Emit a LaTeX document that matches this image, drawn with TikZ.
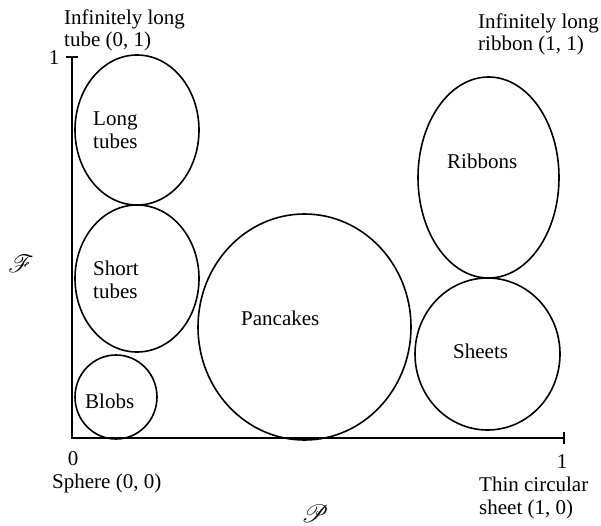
\documentclass[tikz,border=0pt]{standalone}
\usepackage{fontspec}
\setmainfont{Liberation Serif}
\usepackage{mathrsfs}

\begin{document}
\begin{tikzpicture}[x=1pt, y=-1pt, font=\fontsize{21}{22.5}\selectfont]
          \useasboundingbox (0,0) rectangle (601,526);
          % axes
          \coordinate (o) at (72,438);
          \coordinate (ytop) at (72,57);
          \coordinate (xend) at (564,438);
          \draw [line width=1.7pt] (ytop) -- (o) -- (xend);
          \draw [line width=1.7pt] ([xshift=-6pt]ytop) -- ([xshift=6pt]ytop);
          \draw [line width=1.7pt] ([yshift=-6pt]xend) -- ([yshift=6pt]xend);
          \node [anchor=base, inner sep=0pt] (one-y) at (54,65) {1};
          \node [anchor=base, inner sep=0pt] (zero) at (73,465) {0};
          \node [anchor=base, inner sep=0pt] (one-x) at (562,468) {1};
          \node [font=\fontsize{28}{30}\selectfont] at (21,264) (F) {$\mathscr{F}$};
          \node [font=\fontsize{27}{30}\selectfont] at (315,514) (P) {$\mathscr{P}$};
          % corners (base = last line)
          \node [anchor=base west, align=left, inner sep=0pt] (tube) at (64,47) {Infinitely long\\tube (0, 1)};
          \node [anchor=base west, align=left, inner sep=0pt] (ribbon) at (478,51) {Infinitely long\\ribbon (1, 1)};
          \node [anchor=base west, inner sep=0pt] (sphere) at (52,488) {Sphere (0, 0)};
          \node [anchor=base west, align=left, inner sep=0pt] (sheet) at (479,514) {Thin circular\\sheet (1, 0)};
          % shape classes
          \draw [line width=1.6pt] (137,130) circle [x radius=62, y radius=75];
          \draw [line width=1.6pt] (137,278.5) circle [x radius=62, y radius=73.5];
          \draw [line width=1.6pt] (116,397) circle [x radius=41, y radius=42];
          \draw [line width=1.6pt] (304.5,327) circle [x radius=106.5, y radius=113];
          \draw [line width=1.6pt] (488.5,177.5) circle [x radius=70.5, y radius=100.5];
          \draw [line width=1.6pt] (487.5,354) circle [x radius=72.5, y radius=76];
          \node [anchor=west, align=left, inner sep=0pt] (long) at (93,130) {Long\\tubes};
          \node [anchor=west, align=left, inner sep=0pt] (short) at (93,280) {Short\\tubes};
          \node [anchor=west, inner sep=0pt] (blobs) at (85,401) {Blobs};
          \node [anchor=west, inner sep=0pt] (pancakes) at (241,318) {Pancakes};
          \node [anchor=west, inner sep=0pt] (ribbons) at (447,161) {Ribbons};
          \node [anchor=west, inner sep=0pt] (sheets) at (453,351) {Sheets};
        \end{tikzpicture}
\end{document}
